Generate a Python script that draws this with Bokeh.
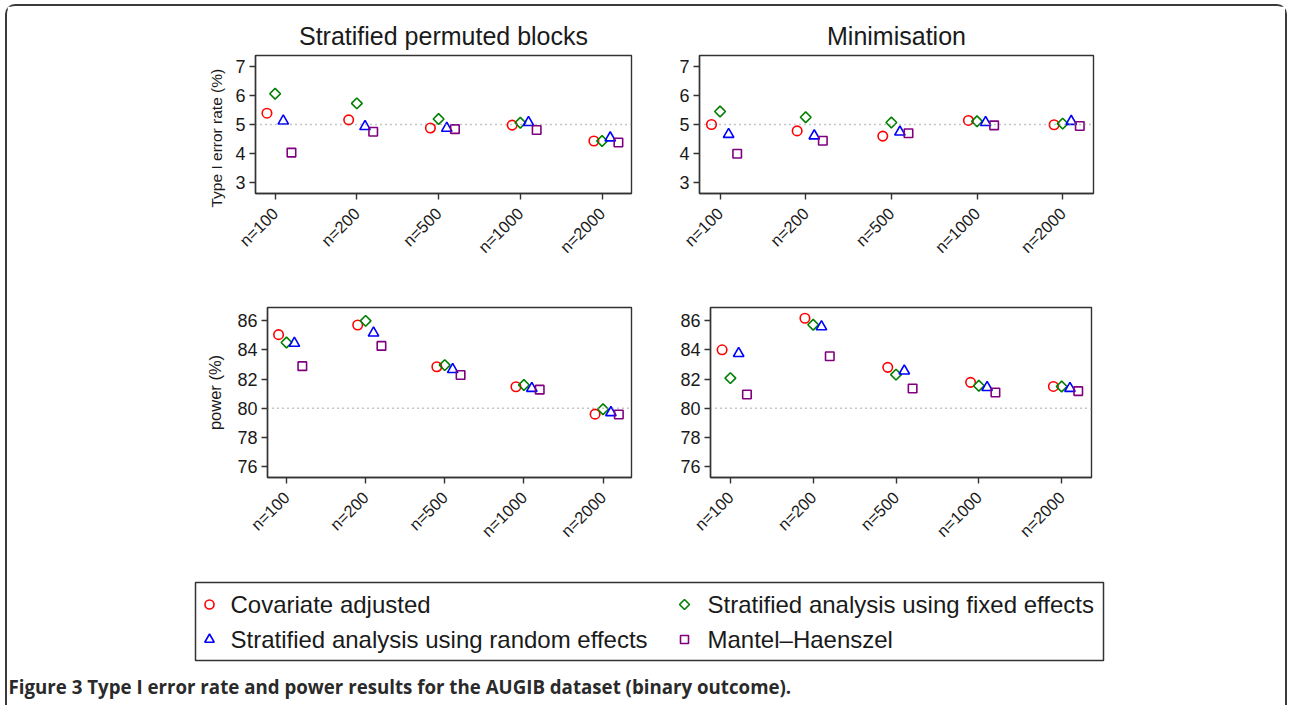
import math
from bokeh.plotting import figure
from bokeh.models import Range1d, FixedTicker, Span, Title
from bokeh.layouts import column, row
from bokeh.embed import file_html
from bokeh.resources import INLINE
from bokeh.core.properties import value

# ---------------- data ----------------
categories = ["n=100", "n=200", "n=500", "n=1000", "n=2000"]
cat_pos = [1, 2, 3, 4, 5]

series_names = ["Covariate adjusted", "Stratified analysis using fixed effects",
                "Stratified analysis using random effects", "Mantel\u2013Haenszel"]

# Type I error rate (%) - Stratified permuted blocks
t1e_spb_cov = [5.39, 5.16, 4.88, 4.98, 4.43]
t1e_spb_fix = [6.06, 5.73, 5.19, 5.06, 4.43]
t1e_spb_rand = [5.12, 4.93, 4.87, 5.07, 4.54]
t1e_spb_mh = [4.03, 4.75, 4.84, 4.81, 4.38]

# Type I error rate (%) - Minimisation
t1e_min_cov = [5.00, 4.78, 4.60, 5.14, 4.99]
t1e_min_fix = [5.45, 5.25, 5.07, 5.11, 5.03]
t1e_min_rand = [4.66, 4.61, 4.74, 5.07, 5.11]
t1e_min_mh = [3.99, 4.44, 4.70, 4.97, 4.95]

# Power (%) - Stratified permuted blocks
pow_spb_cov = [85.04, 85.70, 82.84, 81.47, 79.59]
pow_spb_fix = [84.50, 85.98, 82.95, 81.59, 79.93]
pow_spb_rand = [84.45, 85.15, 82.65, 81.36, 79.70]
pow_spb_mh = [82.88, 84.27, 82.27, 81.27, 79.57]

# Power (%) - Minimisation
pow_min_cov = [84.00, 86.16, 82.80, 81.77, 81.49]
pow_min_fix = [82.06, 85.72, 82.30, 81.54, 81.49]
pow_min_rand = [83.75, 85.58, 82.55, 81.42, 81.36]
pow_min_mh = [80.94, 83.56, 81.35, 81.08, 81.17]

t1e_ticks = [3, 4, 5, 6, 7]
pow_ticks = [76, 78, 80, 82, 84, 86]
t1e_ref = 5
pow_ref = 80

caption = "Figure 3 Type I error rate and power results for the AUGIB dataset (binary outcome)."

# ---------------- styles ----------------
FONT = "Liberation Sans"
TXT = "#1a1a1a"
styles = [
    dict(marker="circle", color="#ff0000", offset=-0.1, size=9.5, angle=0.0, lsize=9),
    dict(marker="square", color="#008000", offset=0.0, size=7.6, angle=math.pi / 4, lsize=7),
    dict(marker="triangle", color="#0000ff", offset=0.1, size=10.5, angle=0.0, lsize=9.5),
    dict(marker="square", color="#800080", offset=0.2, size=8.5, angle=0.0, lsize=8),
]


def panel(width, height, mbl, mbr, mbt, mbb, yrange, yticks, ref, data, title=None, ylabel=None):
    p = figure(width=width, height=height, output_backend="svg", toolbar_location=None,
               x_range=Range1d(0.76, 5.36), y_range=Range1d(*yrange),
               min_border_left=mbl, min_border_right=mbr, min_border_top=mbt,
               min_border_bottom=mbb, title=title)
    p.background_fill_color = "white"
    p.border_fill_color = "white"
    p.outline_line_color = "#333333"
    p.outline_line_width = 1.4
    p.xgrid.visible = False
    p.ygrid.visible = False
    if title is not None:
        p.title.text_font = FONT
        p.title.text_font_size = "25px"
        p.title.text_font_style = "normal"
        p.title.text_color = TXT
        p.title.align = "center"
        p.title.standoff = 11

    p.xaxis.ticker = FixedTicker(ticks=cat_pos)
    p.xaxis.major_label_overrides = {c: lab for c, lab in zip(cat_pos, categories)}
    p.xaxis.major_label_orientation = math.pi / 4
    p.yaxis.ticker = FixedTicker(ticks=yticks)
    for ax in (p.xaxis[0], p.yaxis[0]):
        ax.axis_line_color = "#333333"
        ax.axis_line_width = 1.4
        ax.major_tick_line_color = "#333333"
        ax.major_tick_line_width = 1.4
        ax.major_tick_out = 6
        ax.major_tick_in = 0
        ax.minor_tick_line_color = None
        ax.major_label_text_font = FONT
        ax.major_label_text_color = TXT
        ax.major_label_standoff = 4
    p.xaxis.major_label_standoff = 11
    p.xaxis.major_label_text_font_size = "16.5px"
    p.yaxis.major_label_text_font_size = "18px"
    if ylabel is not None:
        p.yaxis.axis_label = ylabel
        p.yaxis.axis_label_text_font = FONT
        p.yaxis.axis_label_text_font_size = "16.5px"
        p.yaxis.axis_label_text_font_style = "normal"
        p.yaxis.axis_label_text_color = TXT
        p.yaxis.axis_label_standoff = 10

    p.add_layout(Span(location=ref, dimension="width", line_color="#8a8a8a",
                      line_width=1.4, line_dash="1 4"))
    for vals, st in zip(data, styles):
        xs = [c + st["offset"] for c in cat_pos]
        p.scatter(xs, vals, marker=st["marker"], size=st["size"], angle=st["angle"],
                  fill_color=None, line_color=st["color"], line_width=1.6)
    return p


p_tl = panel(653, 284, 248, 29, 49, 97, (2.62, 7.38), t1e_ticks, t1e_ref,
             [t1e_spb_cov, t1e_spb_fix, t1e_spb_rand, t1e_spb_mh],
             title="Stratified permuted blocks")
# y-axis title of the top row starts a little below the frame, as in the original
p_tl.add_layout(Title(text="Type I error rate (%)", align="left", offset=-14,
                      text_font=FONT, text_font_size="15.5px", text_font_style="normal",
                      text_color=TXT, standoff=15), "left")
p_tr = panel(625, 284, 39, 192, 49, 97, (2.62, 7.38), t1e_ticks, t1e_ref,
             [t1e_min_cov, t1e_min_fix, t1e_min_rand, t1e_min_mh],
             title="Minimisation")
p_bl = panel(653, 270, 260, 29, 17, 83, (75.25, 86.9), pow_ticks, pow_ref,
             [pow_spb_cov, pow_spb_fix, pow_spb_rand, pow_spb_mh],
             ylabel="power (%)")
p_br = panel(625, 270, 50, 194, 17, 83, (75.25, 86.9), pow_ticks, pow_ref,
             [pow_min_cov, pow_min_fix, pow_min_rand, pow_min_mh])

# ---------------- legend + caption ----------------
lg = figure(width=1278, height=145, output_backend="svg", toolbar_location=None,
            x_range=Range1d(7, 1285), y_range=Range1d(705, 560),
            min_border=0, min_border_left=0, min_border_right=0,
            min_border_top=0, min_border_bottom=0)
lg.axis.visible = False
lg.xgrid.visible = False
lg.ygrid.visible = False
lg.outline_line_color = None
lg.border_fill_color = "white"

lg.quad(left=[195], right=[1103], top=[582], bottom=[660], fill_color=None,
        line_color="#333333", line_width=1.5)

leg_x_marker = [209, 209, 684, 684]
leg_x_text = [230, 230, 707, 707]
leg_y = [604, 639, 604, 639]
leg_order = [0, 2, 1, 3]
for k, si in enumerate(leg_order):
    st = styles[si]
    lg.scatter([leg_x_marker[k]], [leg_y[k]], marker=st["marker"], size=st["lsize"],
               angle=st["angle"], fill_color=None, line_color=st["color"], line_width=1.6)
    lg.text([leg_x_text[k]], [leg_y[k]], text=[series_names[si]], text_font=value(FONT),
            text_font_size="24px", text_baseline="middle", text_align="left", text_color=TXT)

lg.text([8], [686], text=[caption],
        text_font=value("Open Sans"), text_font_size="18.7px", text_font_style="bold",
        text_baseline="middle", text_align="left", text_color="#2a2a2a")

layout = column(row(p_tl, p_tr), row(p_bl, p_br), lg,
                styles={"margin-left": "5px", "margin-top": "4px",
                        "border-top": "2px solid #3a3a3a", "border-left": "2px solid #3a3a3a",
                        "border-right": "2px solid #3a3a3a", "border-top-left-radius": "10px",
                        "border-top-right-radius": "10px"})

open("out.html", "w").write(file_html(layout, INLINE))
